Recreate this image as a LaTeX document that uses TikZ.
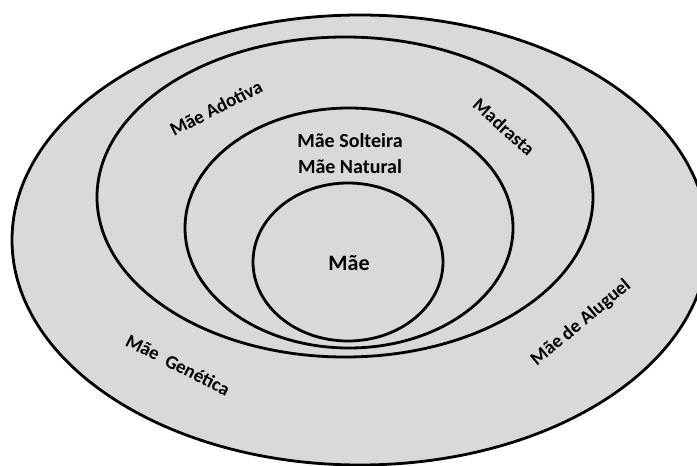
\documentclass[tikz,border=0pt]{standalone}
\usepackage{fontspec}
\setmainfont{Carlito}
\definecolor{ringfill}{RGB}{217,217,217}

\begin{document}
\begin{tikzpicture}[x=1pt,y=-1pt,
	ring/.style={line width=2.8pt},
	tag/.style={font=\fontsize{19}{21}\selectfont\bfseries, inner sep=0pt}]
			\useasboundingbox (0,0) rectangle (697,466);
			\clip (0,0) rectangle (697,466);
			
			% the four sets, largest first
			\draw [ring, fill=ringfill] (360,240) ellipse [x radius=348, y radius=225];
			\draw [ring] (345,197) ellipse [x radius=248, y radius=160];
			\draw [ring] (349,228) ellipse [x radius=164, y radius=120];
			\draw [ring] (348,262) ellipse [x radius=95, y radius=79];
			
			\node [tag, font=\fontsize{22}{24}\selectfont\bfseries] (mae) at (349,263) {Mãe};
			\node [tag, font=\fontsize{20}{22}\selectfont\bfseries] (solteira) at (350,141) {Mãe Solteira};
			\node [tag, font=\fontsize{20}{22}\selectfont\bfseries] (natural) at (350,167) {Mãe Natural};
			
			\node [tag, rotate=27] (adotiva) at (216,108) {Mãe Adotiva};
			\node [tag, rotate=-42] (madrasta) at (504,127) {Madrasta};
			\node [tag, rotate=-27] (genetica) at (178,365) {Mãe\ \ Genética};
			\node [tag, rotate=40] (aluguel) at (581,323) {Mãe de Aluguel};
			
			\end{tikzpicture}
\end{document}
